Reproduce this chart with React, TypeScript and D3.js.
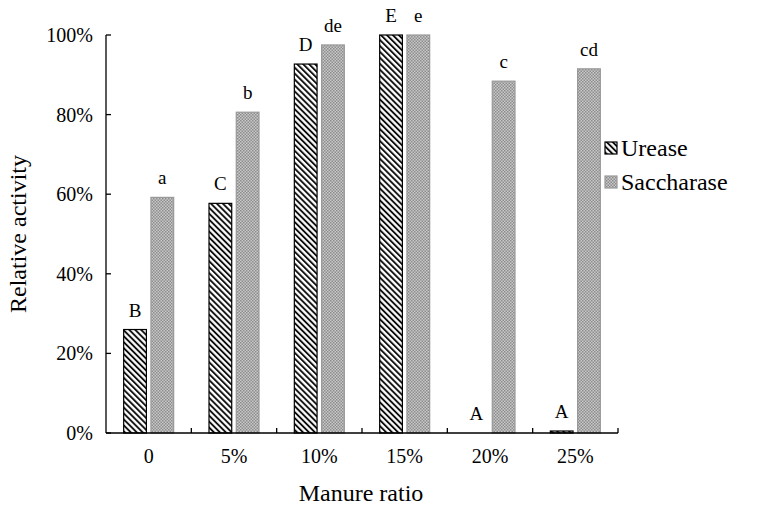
import { useEffect, useRef } from "react";
import * as d3 from "d3";

const categories = ["0", "5%", "10%", "15%", "20%", "25%"];
const seriesNames = ["Urease", "Saccharase"];
const ureaseValues = [0.26, 0.577, 0.927, 1.0, 0.0, 0.005];
const saccharaseValues = [0.592, 0.806, 0.975, 1.0, 0.884, 0.915];
const ureaseLetters = ["B", "C", "D", "E", "A", "A"];
const saccharaseLetters = ["a", "b", "de", "e", "c", "cd"];
const yTicks = [0, 0.2, 0.4, 0.6, 0.8, 1.0];

export default function App() {
  const ref = useRef(null);

  useEffect(() => {
    if (ref.current) {
      ref.current.innerHTML = "";
    }
    const W = 757, H = 513;
    const left = 106, right = 618, top = 35, bottom = 433;
    const font = "Liberation Serif, Times New Roman, serif";

    const svg = d3.select(ref.current)
      .append("svg")
      .attr("width", W)
      .attr("height", H)
      .attr("font-family", font)
      .style("display", "block")
      .style("background", "#fff");

    const defs = svg.append("defs");

    // diagonal hatch for urease
    const hatch = defs.append("pattern")
      .attr("id", "hatch")
      .attr("patternUnits", "userSpaceOnUse")
      .attr("width", 4.2)
      .attr("height", 4.2)
      .attr("patternTransform", "rotate(-45)");
    hatch.append("rect").attr("width", 4.2).attr("height", 4.2).attr("fill", "#fff");
    hatch.append("line")
      .attr("x1", 1).attr("y1", 0).attr("x2", 1).attr("y2", 4.2)
      .attr("stroke", "#000").attr("stroke-width", 1.8);

    // fine grey checker for saccharase
    const dots = defs.append("pattern")
      .attr("id", "dots")
      .attr("patternUnits", "userSpaceOnUse")
      .attr("width", 3)
      .attr("height", 3);
    dots.append("rect").attr("width", 3).attr("height", 3).attr("fill", "#c9c9c9");
    dots.append("rect").attr("width", 1.5).attr("height", 1.5).attr("fill", "#8c8c8c");
    dots.append("rect").attr("x", 1.5).attr("y", 1.5).attr("width", 1.5).attr("height", 1.5).attr("fill", "#8c8c8c");

    const x = d3.scaleBand().domain(categories).range([left, right]).padding(0);
    const x1 = d3.scaleBand().domain(seriesNames).range([0, 51]).paddingInner(0.13);
    const y = d3.scaleLinear().domain([0, 1]).range([bottom, top]);

    const fills = { Urease: "url(#hatch)", Saccharase: "url(#dots)" };
    const strokes = { Urease: "#000", Saccharase: "#999" };

    const rows = [];
    categories.forEach((c, i) => {
      rows.push({ cat: c, s: "Urease", v: ureaseValues[i], letter: ureaseLetters[i] });
      rows.push({ cat: c, s: "Saccharase", v: saccharaseValues[i], letter: saccharaseLetters[i] });
    });

    // left edge of a bar inside its group
    const bx = d => x(d.cat) + x.bandwidth() / 2 - 25.5 + x1(d.s);

    // bars
    svg.append("g")
      .selectAll("rect")
      .data(rows.filter(d => d.v > 0))
      .join("rect")
      .attr("x", d => bx(d) + 0.5)
      .attr("y", d => y(d.v))
      .attr("width", x1.bandwidth() - 1)
      .attr("height", d => y(0) - y(d.v))
      .attr("fill", d => fills[d.s])
      .attr("stroke", d => strokes[d.s])
      .attr("stroke-width", 1.2);

    // significance letters
    svg.append("g")
      .selectAll("text")
      .data(rows)
      .join("text")
      .attr("x", d => bx(d) + x1.bandwidth() / 2)
      .attr("y", d => y(d.v) - 13)
      .attr("text-anchor", "middle")
      .attr("font-size", 19)
      .text(d => d.letter);

    // axes
    const axisG = svg.append("g").attr("stroke", "#000").attr("stroke-width", 1.3);
    axisG.append("line").attr("x1", left).attr("x2", left).attr("y1", top).attr("y2", bottom);
    axisG.append("line").attr("x1", left).attr("x2", right).attr("y1", bottom).attr("y2", bottom);
    axisG.selectAll(".yt")
      .data(yTicks)
      .join("line")
      .attr("x1", left).attr("x2", left + 5)
      .attr("y1", d => y(d)).attr("y2", d => y(d));
    axisG.selectAll(".xt")
      .data(categories)
      .join("line")
      .attr("x1", d => x(d) + x.bandwidth()).attr("x2", d => x(d) + x.bandwidth())
      .attr("y1", bottom).attr("y2", bottom - 5);

    svg.append("g")
      .selectAll("text")
      .data(yTicks)
      .join("text")
      .attr("x", 93)
      .attr("y", d => y(d))
      .attr("dy", "0.35em")
      .attr("text-anchor", "end")
      .attr("font-size", 20)
      .text(d => d3.format(".0%")(d));

    svg.append("g")
      .selectAll("text")
      .data(categories)
      .join("text")
      .attr("x", d => x(d) + x.bandwidth() / 2)
      .attr("y", 463)
      .attr("text-anchor", "middle")
      .attr("font-size", 20)
      .text(d => d);

    // axis titles
    svg.append("text")
      .attr("x", 361)
      .attr("y", 501)
      .attr("text-anchor", "middle")
      .attr("font-size", 24)
      .text("Manure ratio");

    svg.append("text")
      .attr("transform", `translate(26,${(top + bottom) / 2}) rotate(-90)`)
      .attr("text-anchor", "middle")
      .attr("font-size", 24)
      .text("Relative activity");

    // legend
    const legend = svg.append("g");
    seriesNames.forEach((s, i) => {
      const ly = 148 + i * 34;
      legend.append("rect")
        .attr("x", 605).attr("y", ly - 6)
        .attr("width", 12).attr("height", 12)
        .attr("fill", fills[s])
        .attr("stroke", strokes[s])
        .attr("stroke-width", 1.2);
      legend.append("text")
        .attr("x", 621).attr("y", ly)
        .attr("dy", "0.35em")
        .attr("font-size", 24)
        .text(s);
    });
  });

  return <div ref={ref} style={{ margin: -8 }}></div>;
}
